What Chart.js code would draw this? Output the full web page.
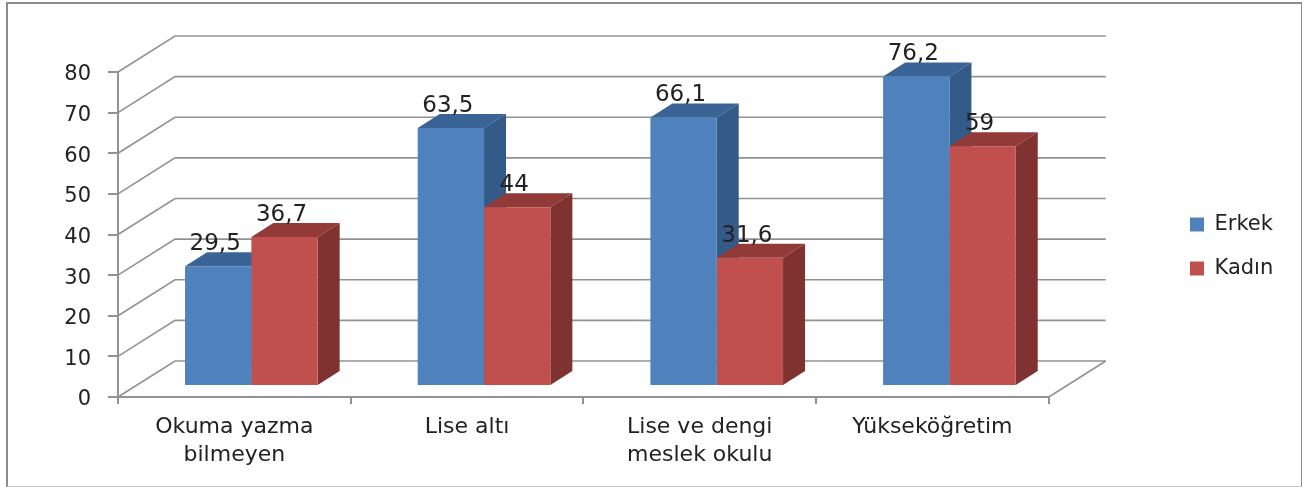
<!DOCTYPE html>
<html>
<head>
<meta charset="utf-8">
<script src="https://cdn.jsdelivr.net/npm/chart.js@4/dist/chart.umd.min.js"></script>
<style>
    html, body { margin: 0; background: #fff; overflow: hidden; }
    #frame {
        position: absolute; left: 6px; top: 2px; width: 1293px; height: 482px;
        border: solid #8c8c8c; border-width: 2px 1px 1px 2px;
        border-bottom-color: #c8c8c8; pointer-events: none;
    }
    canvas { position: absolute; left: 0; top: 0; }
</style>
</head>
<body>
<canvas id="chart" width="1303" height="487"></canvas>
<div id="frame"></div>
<script>
const categories = [["Okuma yazma", "bilmeyen"], "Lise altı", ["Lise ve dengi", "meslek okulu"], "Yükseköğretim"];
const erkek = [29.5, 63.5, 66.1, 76.2];
const kadin = [36.7, 44, 31.6, 59];
const yTicks = [0, 10, 20, 30, 40, 50, 60, 70, 80];

const FONT = "'DejaVu Sans', sans-serif";
const TEXT = "#222222";
const LINE = "#929292";

// Fake 3D: how far the back wall sits from the axes, and the bars inside it
const WALL = { dx: 57, dy: -36 };
const BAR_SHIFT = { x: 17, y: -11 };
const DEPTH = { x: 22, y: -14 };
const SHADES = [
    { top: "#3b6496", side: "#345a87" },
    { top: "#923a38", side: "#7f3230" }
];

function poly(ctx, pts, color) {
    ctx.fillStyle = color;
    ctx.beginPath();
    pts.forEach(([x, y], i) => i ? ctx.lineTo(x, y) : ctx.moveTo(x, y));
    ctx.closePath();
    ctx.fill();
}

const walls3d = {
    id: "walls3d",
    afterLayout(chart) {
        // Excel keeps the legend well clear of the plot
        chart.legend.left = 1167;
        chart.legend.top = 191;
        chart.legend.right = 1303;
    },
    beforeDatasetsDraw(chart) {
        const { ctx, scales: { x, y } } = chart;

        // Gridlines run along the floor edge, then up the back wall
        ctx.save();
        ctx.strokeStyle = LINE;
        ctx.lineWidth = 1.6;
        yTicks.forEach(v => {
            const py = y.getPixelForValue(v);
            ctx.beginPath();
            ctx.moveTo(x.left, py);
            ctx.lineTo(x.left + WALL.dx, py + WALL.dy);
            ctx.lineTo(x.right + WALL.dx, py + WALL.dy);
            ctx.stroke();
        });
        const floor = y.getPixelForValue(0);
        ctx.beginPath();
        ctx.moveTo(x.right, floor);
        ctx.lineTo(x.right + WALL.dx, floor + WALL.dy);
        ctx.stroke();
        ctx.restore();

        // All bars sit a little inside the floor
        ctx.save();
        ctx.translate(BAR_SHIFT.x, BAR_SHIFT.y);
        chart.data.datasets.forEach((ds, i) => {
            chart.getDatasetMeta(i).data.forEach(bar => {
                const l = bar.x - bar.width / 2, r = bar.x + bar.width / 2;
                const t = bar.y, b = bar.base;
                poly(ctx, [[l, t], [r, t], [r + DEPTH.x, t + DEPTH.y], [l + DEPTH.x, t + DEPTH.y]], SHADES[i].top);
                poly(ctx, [[r, t], [r + DEPTH.x, t + DEPTH.y], [r + DEPTH.x, b + DEPTH.y], [r, b]], SHADES[i].side);
            });
        });
        // left in place so the front faces get the same shift
    },
    afterDatasetsDraw(chart) {
        const ctx = chart.ctx;
        ctx.restore();

        ctx.save();
        ctx.font = "23px " + FONT;
        ctx.fillStyle = TEXT;
        ctx.textAlign = "center";
        ctx.textBaseline = "middle";
        chart.data.datasets.forEach((ds, i) => {
            chart.getDatasetMeta(i).data.forEach((bar, j) => {
                const label = String(ds.data[j]).replace(".", ",");
                ctx.fillText(label, bar.x + BAR_SHIFT.x - 3, bar.y + BAR_SHIFT.y - 22);
            });
        });
        ctx.restore();
    }
};

new Chart(document.getElementById("chart"), {
    type: "bar",
    data: {
        labels: categories,
        datasets: [
            { label: "Erkek", data: erkek, backgroundColor: "#4f81bd", barPercentage: 1, categoryPercentage: 0.57 },
            { label: "Kadın", data: kadin, backgroundColor: "#c0504d", barPercentage: 1, categoryPercentage: 0.57 }
        ]
    },
    options: {
        responsive: false,
        animation: false,
        layout: { padding: { left: 58, top: 72, right: 138, bottom: 0 } },
        plugins: {
            tooltip: { enabled: false },
            legend: {
                position: "right",
                align: "start",
                labels: {
                    boxWidth: 14,
                    boxHeight: 14,
                    padding: 23,
                    color: TEXT,
                    font: { family: FONT, size: 21 }
                }
            }
        },
        scales: {
            x: {
                afterFit(scale) { scale.height = 90; },
                grid: { offset: true, drawOnChartArea: false, tickLength: 7, color: LINE, lineWidth: 2 },
                border: { color: LINE, width: 2 },
                ticks: { color: TEXT, padding: 9, maxRotation: 0, autoSkip: false, font: { family: FONT, size: 22, lineHeight: 1.27 } }
            },
            y: {
                min: 0,
                max: 80,
                afterFit(scale) { scale.width = 60; },
                afterBuildTicks(scale) { scale.ticks = yTicks.map(value => ({ value })); },
                grid: { drawOnChartArea: false, tickLength: 10, color: LINE, lineWidth: 2 },
                border: { color: LINE, width: 2 },
                ticks: { color: TEXT, padding: 17, labelOffset: 3, font: { family: FONT, size: 21 } }
            }
        }
    },
    plugins: [walls3d]
});
</script>
</body>
</html>
